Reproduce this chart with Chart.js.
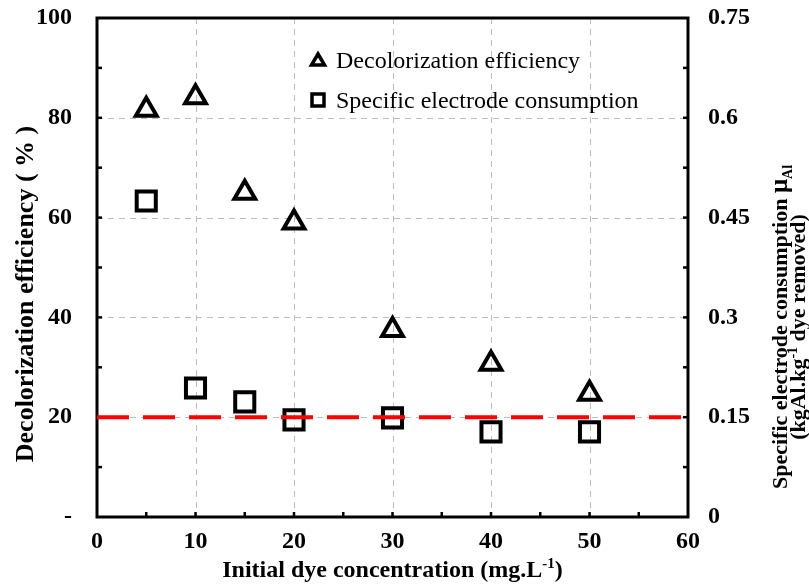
<!DOCTYPE html>
<html><head><meta charset="utf-8">
<script src="https://cdn.jsdelivr.net/npm/chart.js@4.4.0/dist/chart.umd.min.js"></script>
<style>html,body{margin:0;padding:0;background:#fff}canvas{display:block}</style>
</head><body>
<canvas id="c" width="809" height="585"></canvas>
<script>
// ---- data ----
const concentrations = [5, 10, 15, 20, 30, 40, 50];
const decolorization = [81.6, 84.1, 65.0, 59.0, 37.5, 30.7, 24.7];
const electrodeConsumption = [0.475, 0.194, 0.173, 0.146, 0.149, 0.128, 0.128];
const referenceLevel = 20;          // on left axis (= 0.15 on right axis)
const referenceSpan = [0, 60];
const xTickValues = [0, 10, 20, 30, 40, 50, 60];
const leftTickValues = [0, 20, 40, 60, 80, 100];
const leftTickLabels = ['-', '20', '40', '60', '80', '100'];
const rightTickValues = [0, 0.15, 0.3, 0.45, 0.6, 0.75];
const rightTickLabels = ['0', '0.15', '0.3', '0.45', '0.6', '0.75'];
const legendLabels = ['Decolorization efficiency', 'Specific electrode consumption'];

const SERIF = '"Liberation Serif","Times New Roman",serif';
const f = (size, bold) => (bold ? 'bold ' : '') + size + 'px ' + SERIF;

function drawRich(ctx, segs, cx, cy, rot) {
  ctx.save();
  ctx.translate(cx, cy);
  ctx.rotate(rot);
  ctx.textBaseline = 'alphabetic';
  ctx.textAlign = 'left';
  let total = 0;
  segs.forEach(s => { ctx.font = s.font; s.w = ctx.measureText(s.t).width; total += s.w; });
  let x = -total / 2;
  segs.forEach(s => { ctx.font = s.font; ctx.fillStyle = '#000'; ctx.fillText(s.t, x, s.dy || 0); x += s.w; });
  ctx.restore();
}

const framePlugin = {
  id: 'frame',
  beforeDatasetsDraw(chart) {
    const { ctx, chartArea: a, scales: { x, y, y1 } } = chart;
    const line = (x0, y0, x1, y2) => { ctx.beginPath(); ctx.moveTo(x0, y0); ctx.lineTo(x1, y2); ctx.stroke(); };
    ctx.save();
    ctx.strokeStyle = '#bcbcbc'; ctx.lineWidth = 1; ctx.setLineDash([6, 5]);
    xTickValues.slice(1, -1).forEach(v => { const p = Math.round(x.getPixelForValue(v)) + 0.5; line(p, a.top, p, a.bottom); });
    leftTickValues.slice(1, -1).forEach(v => { const p = Math.round(y.getPixelForValue(v)) + 0.5; line(a.left, p, a.right, p); });
    ctx.setLineDash([]);
    ctx.strokeStyle = '#000'; ctx.lineWidth = 2.5;
    for (let v = 5; v < 60; v += 5) { const p = x.getPixelForValue(v); line(p, a.bottom, p, a.bottom - 5); }
    for (let v = 10; v < 100; v += 10) { const p = y.getPixelForValue(v); line(a.left, p, a.left + 5, p); }
    for (let i = 1; i < 10; i++) { const p = y1.getPixelForValue(i * 0.075); line(a.right, p, a.right - 5, p); }
    ctx.lineWidth = 3;
    ctx.strokeRect(a.left, a.top, a.width, a.height);
    ctx.restore();
  },
  afterDraw(chart) {
    const { ctx, chartArea: a } = chart;
    // x title
    drawRich(ctx, [
      { t: 'Initial dye concentration (mg.L', font: f(24, true) },
      { t: '-1', font: f(15, true), dy: -9 },
      { t: ')', font: f(24, true) }
    ], (a.left + a.right) / 2, 577, 0);
    // left title
    drawRich(ctx, [{ t: 'Decolorization efficiency ( % )', font: f(26, true) }], 33, 294, -Math.PI / 2);
    // right title
    drawRich(ctx, [
      { t: 'Specific electrode consumption ', font: f(22, true) },
      { t: 'μ', font: f(25, true) },
      { t: 'Al', font: f(14, true), dy: 5 }
    ], 787, 327, -Math.PI / 2);
    drawRich(ctx, [
      { t: '(kgAl.kg', font: f(22, true) },
      { t: '-1', font: f(14, true), dy: -8 },
      { t: ' dye removed)', font: f(22, true) }
    ], 805, 327, -Math.PI / 2);
    // legend
    ctx.save();
    ctx.strokeStyle = '#000'; ctx.lineWidth = 3.5; ctx.lineJoin = 'miter';
    const tx = 318, ty = 60;
    ctx.beginPath(); ctx.moveTo(tx, ty - 6); ctx.lineTo(tx + 6.5, ty + 5); ctx.lineTo(tx - 6.5, ty + 5); ctx.closePath(); ctx.stroke();
    ctx.strokeRect(318 - 6, 100 - 6, 12, 12);
    ctx.font = f(24, false); ctx.fillStyle = '#000'; ctx.textBaseline = 'alphabetic'; ctx.textAlign = 'left';
    ctx.fillText(legendLabels[0], 336, 68);
    ctx.fillText(legendLabels[1], 336, 108);
    ctx.restore();
  }
};

const pts = vals => concentrations.map((c, i) => ({ x: c, y: vals[i] }));
const noPadV = s => { s.paddingTop = 0; s.paddingBottom = 0; };

new Chart(document.getElementById('c'), {
  type: 'scatter',
  data: {
    datasets: [
      {
        label: 'Reference', type: 'line', yAxisID: 'y', order: 0,
        data: referenceSpan.map(v => ({ x: v, y: referenceLevel })),
        borderColor: '#ff0000', borderWidth: 4, borderDash: [32, 14], pointRadius: 0, fill: false
      },
      {
        label: legendLabels[0], yAxisID: 'y', order: 1, data: pts(decolorization),
        pointStyle: 'triangle', pointRadius: 12, borderColor: '#000', backgroundColor: 'rgba(0,0,0,0)', borderWidth: 4
      },
      {
        label: legendLabels[1], yAxisID: 'y1', order: 2, data: pts(electrodeConsumption),
        pointStyle: 'rect', pointRadius: 13.5, borderColor: '#000', backgroundColor: 'rgba(0,0,0,0)', borderWidth: 4
      }
    ]
  },
  options: {
    responsive: false, animation: false,
    layout: { padding: { top: 18, left: 0, right: 0, bottom: 0 } },
    plugins: { legend: { display: false }, tooltip: { enabled: false } },
    scales: {
      x: {
        type: 'linear', min: 0, max: 60,
        afterBuildTicks: s => { s.ticks = xTickValues.map(v => ({ value: v })); },
        afterFit: s => { s.height = 68; s.paddingLeft = 0; s.paddingRight = 0; },
        grid: { display: false, drawTicks: false }, border: { display: false },
        ticks: { font: { family: SERIF, size: 24, weight: 'bold' }, color: '#000', padding: 10, maxRotation: 0 }
      },
      y: {
        position: 'left', min: 0, max: 100,
        afterBuildTicks: s => { s.ticks = leftTickValues.map(v => ({ value: v })); },
        afterFit: s => { s.width = 97; noPadV(s); },
        grid: { display: false, drawTicks: false }, border: { display: false },
        ticks: { font: { family: SERIF, size: 24, weight: 'bold' }, color: '#000', padding: 25,
          callback: (v, i) => leftTickLabels[i] }
      },
      y1: {
        position: 'right', min: 0, max: 0.75,
        afterBuildTicks: s => { s.ticks = rightTickValues.map(v => ({ value: v })); },
        afterFit: s => { s.width = 121; noPadV(s); },
        grid: { display: false, drawTicks: false }, border: { display: false },
        ticks: { font: { family: SERIF, size: 24, weight: 'bold' }, color: '#000', padding: 20,
          callback: (v, i) => rightTickLabels[i] }
      }
    }
  },
  plugins: [framePlugin]
});
</script>
</body></html>
